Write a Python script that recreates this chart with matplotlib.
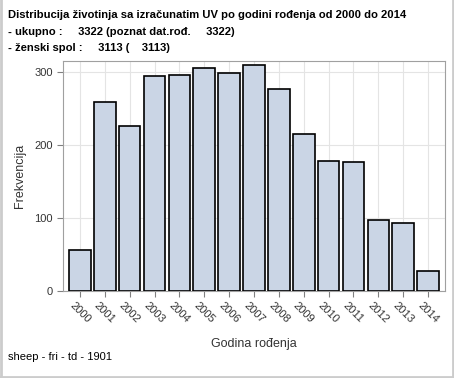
import numpy as np
import matplotlib
matplotlib.use("Agg")
import matplotlib.pyplot as plt
from matplotlib.lines import Line2D

plt.rcParams['font.family'] = ['Liberation Sans', 'DejaVu Sans']

years = [str(y) for y in range(2000, 2015)]
counts = [56, 259, 226, 295, 296, 306, 299, 309, 276, 215, 178, 177, 97, 93, 27]

title_lines = [
    "Distribucija životinja sa izračunatim UV po godini rođenja od 2000 do 2014",
    "- ukupno :     3322 (poznat dat.rođ.     3322)",
    "- ženski spol :     3113 (    3113)",
]
footer = "sheep - fri - td - 1901"

fig = plt.figure(figsize=(4.54, 3.78), dpi=100)
ax = fig.add_axes([63 / 454, 1 - 291 / 378, 382 / 454, 230 / 378])

x = np.arange(len(years))
ax.bar(x, counts, width=0.87, color="#cad5e5", edgecolor="black", linewidth=1.2, zorder=3)

ax.set_xlim(-0.68, len(years) - 1 + 0.68)
ax.set_ylim(0, 315)
ax.set_yticks([0, 100, 200, 300])
ax.set_xticks(x)
ax.set_xticklabels(years, rotation=-45, ha="center", va="top")
ax.tick_params(axis="both", labelsize=8, length=4, width=0.8)
ax.tick_params(axis="x", pad=3)
ax.tick_params(colors="#808080", labelcolor="#333333")
ax.grid(True, color="#e4e4e4", linewidth=0.8, zorder=0)
for s in ax.spines.values():
    s.set_color("#a0a0a0")
    s.set_linewidth(0.8)

ax.set_xlabel("Godina rođenja", fontsize=9, color="#333333", labelpad=9)
ax.set_ylabel("Frekvencija", fontsize=9, color="#333333", labelpad=6)

ys = [15, 32, 48]
for t, y in zip(title_lines, ys):
    fig.text(8 / 454, 1 - y / 378, t, fontsize=8.1, fontweight="bold", va="center", ha="left")

fig.text(8 / 454, 1 - 357 / 378, footer, fontsize=8, va="center", ha="left")

# outer frame
fc = "#cccccc"
fig.add_artist(Line2D([1 / 454, 1 / 454], [0, 1], color=fc, lw=2, transform=fig.transFigure))
fig.add_artist(Line2D([453 / 454, 453 / 454], [0, 1], color=fc, lw=2, transform=fig.transFigure))
fig.add_artist(Line2D([0, 1], [1 / 378, 1 / 378], color=fc, lw=2, transform=fig.transFigure))

fig.savefig("out.png", dpi=100)
